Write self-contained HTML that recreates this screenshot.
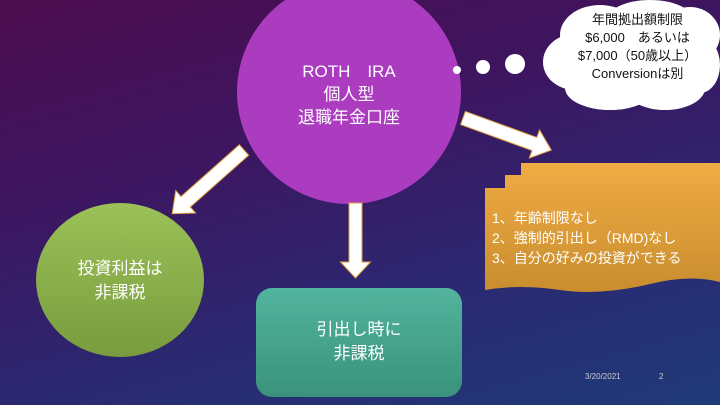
<!DOCTYPE html>
<html><head><meta charset="utf-8"><style>
html,body{margin:0;width:720px;height:405px;overflow:hidden}
body{position:relative;
background:linear-gradient(165deg,#4c0d4e 0%,#3d1560 35%,#2a2a72 70%,#1f3a78 100%);
font-family:"Liberation Sans","Noto Sans CJK JP",sans-serif;color:#fff}
svg{display:block}
.t{position:absolute;text-align:center;white-space:nowrap}
</style></head><body>
<svg width="720" height="405" viewBox="0 0 720 405" style="position:absolute;left:0;top:0;overflow:hidden">
<defs>
<linearGradient id="g" x1="0" y1="0" x2="0" y2="1"><stop offset="0" stop-color="#9bc158"/><stop offset="1" stop-color="#789c3e"/></linearGradient>
<linearGradient id="tl" x1="0" y1="0" x2="0" y2="1"><stop offset="0" stop-color="#52b49d"/><stop offset="1" stop-color="#3a927c"/></linearGradient>
<linearGradient id="or" x1="0" y1="0" x2="0" y2="1"><stop offset="0" stop-color="#f0ac44"/><stop offset="1" stop-color="#c98d2e"/></linearGradient>
</defs>
<circle cx="349" cy="92" r="112" fill="#ab3cbf"/>
<ellipse cx="120" cy="280" rx="84" ry="77" fill="url(#g)"/>
<rect x="256" y="288" width="206" height="109" rx="16" fill="url(#tl)"/>
<path d="M485,188 H505 V175 H521 V163 H720 V282 Q690,274 650,284 Q600,296 560,290 Q520,284 485,290 Z" fill="url(#or)"/>
<g fill="#fff" stroke="#e0a040" stroke-width="1">
<path transform="translate(244,150) rotate(138.4)" d="M0,-7 H78 V-15 L96,0 L78,15 V7 H0 Z"/>
<path transform="translate(355.5,203) rotate(90)" d="M0,-6.5 H59 V-15 L75,0 L59,15 V6.5 H0 Z"/>
<path transform="translate(463,118) rotate(20)" d="M0,-7 H76 V-15 L94,0 L76,15 V7 H0 Z"/>
</g>
<g fill="#fff">
<ellipse cx="600" cy="35" rx="40" ry="30"/>
<ellipse cx="650" cy="22" rx="45" ry="22"/>
<ellipse cx="690" cy="35" rx="30" ry="28"/>
<ellipse cx="575" cy="62" rx="32" ry="28"/>
<ellipse cx="700" cy="65" rx="20" ry="28"/>
<ellipse cx="610" cy="88" rx="45" ry="22"/>
<ellipse cx="665" cy="88" rx="40" ry="22"/>
<ellipse cx="640" cy="55" rx="70" ry="40"/>
</g>
<circle cx="457" cy="70" r="4" fill="#fff"/>
<circle cx="483" cy="67" r="7" fill="#fff"/>
<circle cx="515" cy="64" r="10" fill="#fff"/>
</svg>
<div class="t" style="left:249px;top:60px;width:200px;font-size:17px;line-height:23px">ROTH　IRA<br>個人型<br>退職年金口座</div>
<div class="t" style="left:40px;top:257px;width:160px;font-size:17px;line-height:24px">投資利益は<br>非課税</div>
<div class="t" style="left:256px;top:318px;width:206px;font-size:17px;line-height:24px">引出し時に<br>非課税</div>
<div class="t" style="left:560px;top:11px;width:155px;font-size:13px;line-height:18px;color:#111">年間拠出額制限<br>$6,000　あるいは<br>$7,000（50歳以上）<br>Conversionは別</div>
<div class="t" style="left:492px;top:208px;text-align:left;font-size:14px;line-height:20px">1、年齢制限なし<br>2、強制的引出し（RMD)なし<br>3、自分の好みの投資ができる</div>
<div class="t" style="left:585px;top:372px;font-size:8px;color:#ccc">3/20/2021</div>
<div class="t" style="left:659px;top:372px;font-size:8px;color:#ccc">2</div>
</body></html>
